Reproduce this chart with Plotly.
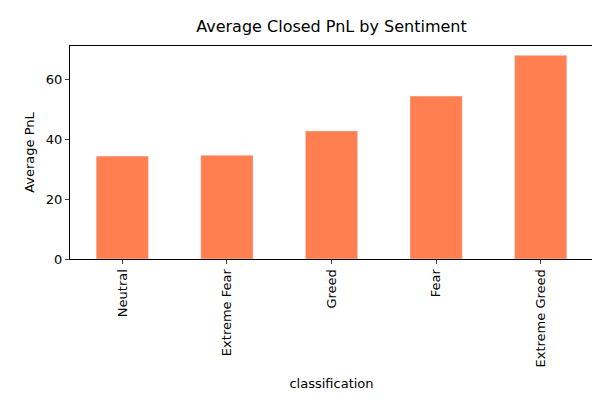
import plotly.graph_objects as go

classification = ["Neutral", "Extreme Fear", "Greed", "Fear", "Extreme Greed"]
avg_pnl = [34.3, 34.6, 42.7, 54.3, 67.9]

fig = go.Figure()
fig.add_trace(go.Bar(x=classification, y=avg_pnl, marker_color="#FF7F50", width=0.5))

fig.update_layout(
    width=600, height=400,
    margin=dict(l=62, r=15, t=38, b=149, autoexpand=False),
    paper_bgcolor="white", plot_bgcolor="white",
    font=dict(family="DejaVu Sans", size=13, color="black"),
    title=dict(text="Average Closed PnL by Sentiment", x=0.5, xref="paper", xanchor="center",
               y=0.955, yref="container", yanchor="middle", font=dict(size=16), automargin=False),
    showlegend=False,
)
fig.update_xaxes(title=dict(text="classification", font=dict(size=13), standoff=12),
                 tickfont=dict(size=13), tickangle=-90, showline=True, linecolor="black",
                 mirror=True, ticks="outside", ticklen=4, range=[-0.5, 4.5], automargin=False)
fig.update_yaxes(title=dict(text="Average PnL", font=dict(size=13), standoff=8),
                 tickfont=dict(size=13), range=[0, 71], tickvals=[0, 20, 40, 60], showline=True,
                 linecolor="black", mirror=True, ticks="outside", ticklen=4, showgrid=False,
                 zeroline=False, automargin=False)

fig.write_html("out.html")
